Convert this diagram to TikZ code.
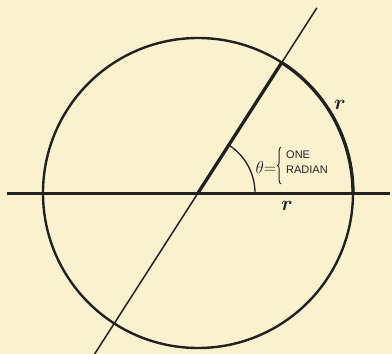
\documentclass[tikz,border=0pt]{standalone}
\usepackage{fontspec}
\usepackage{amsmath,bm}
\newfontfamily\labelsans{Liberation Sans}
\usetikzlibrary{decorations.pathreplacing,calc}
\definecolor{paper}{HTML}{FAF2CF}
\definecolor{ink}{HTML}{222120}
\begin{document}
\begin{tikzpicture}[x=1pt,y=1pt,
  thinline/.style={draw=ink,line width=1.5pt},
  circline/.style={draw=ink,line width=2.4pt},
  thickline/.style={draw=ink,line width=3.3pt},
  smallcaps/.style={font=\labelsans\fontsize{11}{11}\selectfont,inner sep=0pt,anchor=west,text=ink},
  rlabel/.style={font=\fontsize{22}{22}\selectfont,inner sep=0pt,text=ink}]
\fill[paper] (-198,-161) rectangle (194,193);
\useasboundingbox (-198,-161) rectangle (194,193);
\coordinate (O) at (0,0);
\coordinate (L) at (-191,0);
\coordinate (R) at (192,0);
\coordinate (P) at (57.2958:155);
\coordinate (T) at (57.2958:220);
\coordinate (B) at (237.2958:192);
% circle
\draw[circline] (O) circle (155);
\draw[thickline] (155,0) arc (0:57.2958:155);
% slanted line
\draw[thinline] (B) -- (O);
\draw[thickline] (O) -- (P);
\draw[thinline] (P) -- (T);
% horizontal line
\draw[thickline,line width=3pt] (L) -- (R);
% angle arc
\draw[thinline,line width=1.3pt] (57,0) arc (0:57.2958:57);
% labels
\node[font=\fontsize{18}{18}\selectfont,inner sep=0pt,text=ink] (theta) at (68,26) {$\theta{=}$};
\coordinate (braceTop) at (83,46);
\coordinate (braceBot) at (83,9);
\draw[draw=ink,line width=1pt,decorate,decoration={brace,amplitude=3.5pt}] (braceBot) -- (braceTop);
\node[smallcaps] (one) at (88,38) {ONE};
\node[smallcaps] (radian) at (88,23) {RADIAN};
\node[rlabel] (rarc) at (142,88) {$\bm{r}$};
\node[rlabel] (rrad) at (89,-13) {$\bm{r}$};
\end{tikzpicture}
\end{document}
